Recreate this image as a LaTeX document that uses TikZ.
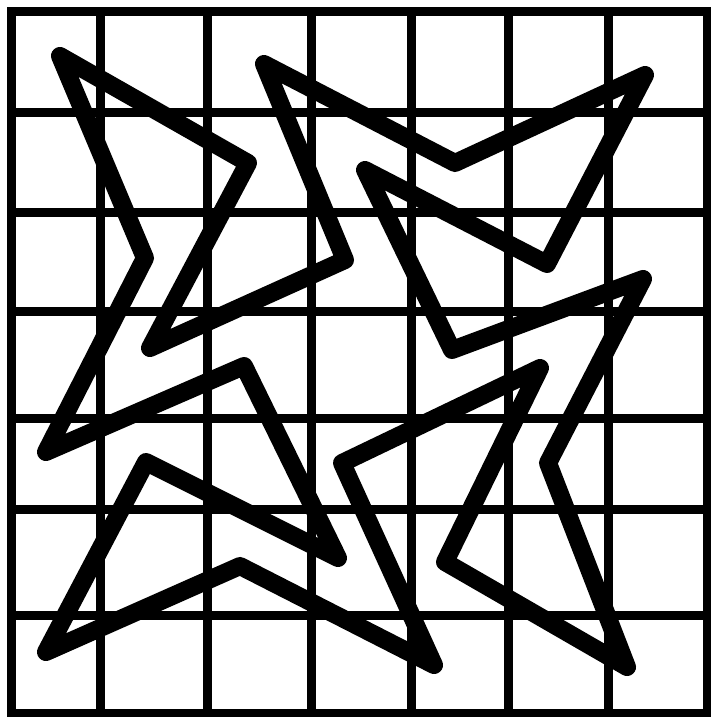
\documentclass[tikz,border=0pt]{standalone}
\begin{document}
\begin{tikzpicture}[x=1pt,y=-1pt,
  gridline/.style={line width=9pt,black,line cap=rect},
  starline/.style={line width=18pt,black,line join=round,line cap=round}]
\useasboundingbox (0,0) rectangle (711,717);
% grid
\foreach \xv in {11,100,207,311,411,508,608,707}
  \draw[gridline] (\xv,12) -- (\xv,713);
\foreach \yv in {12,112,212,311,418,509,615,713}
  \draw[gridline] (11,\yv) -- (707,\yv);
% closed star outline
\draw[starline]
  (60,56) -- (248,163) -- (150,348) -- (345,260) -- (264,64) -- (455,163)
  -- (645,75) -- (547,264) -- (365,170) -- (452,350) -- (643,279) -- (548,463)
  -- (627,667) -- (445,562) -- (540,368) -- (342,463) -- (434,665) -- (240,566)
  -- (46,652) -- (146,462) -- (338,558) -- (244,366) -- (46,452) -- (145,258)
  -- cycle;
\end{tikzpicture}
\end{document}
